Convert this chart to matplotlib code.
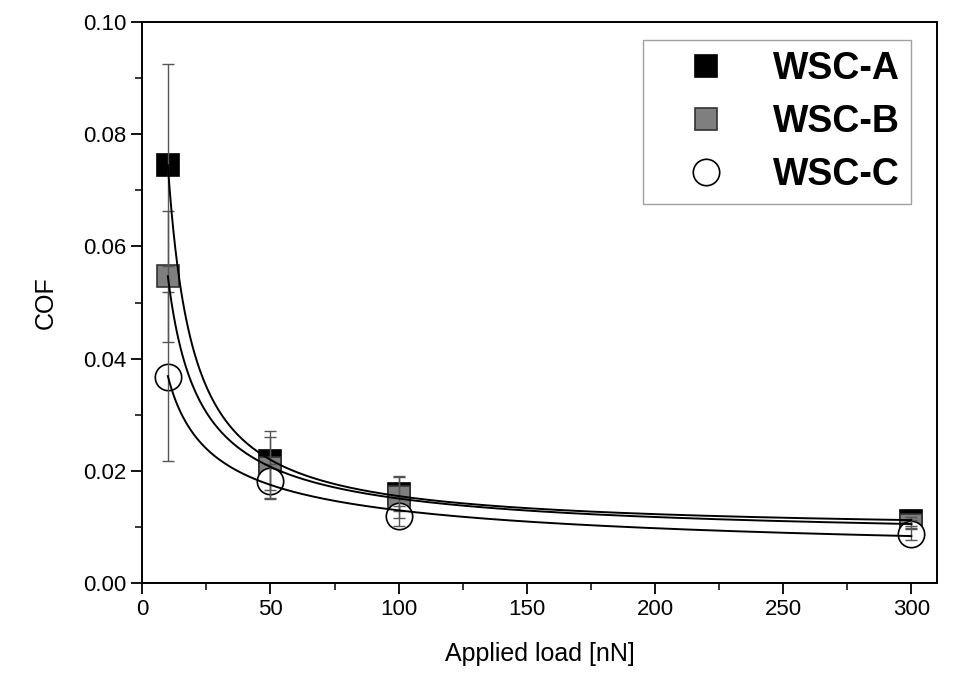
import numpy as np
import matplotlib.pyplot as plt

plt.rcParams['font.family'] = ['Liberation Sans', 'DejaVu Sans']

# Datos
carga = [10, 50, 100, 300]
cof_a = [0.0745, 0.0218, 0.0158, 0.0110]
err_a = [0.0180, 0.0052, 0.0030, 0.0008]
cof_b = [0.0547, 0.0205, 0.0153, 0.0104]
err_b = [0.0117, 0.0055, 0.0038, 0.0008]
cof_c = [0.0368, 0.0182, 0.0119, 0.0087]
err_c = [0.0150, 0.0030, 0.0018, 0.0010]
series = ["WSC-A", "WSC-B", "WSC-C"]


# Ajuste y = c + k * x^b (malla en b, minimos cuadrados en c y k)
def ajuste(x, y):
    x = np.asarray(x, float)
    y = np.asarray(y, float)
    mejor = None
    for b in np.linspace(-3, -0.2, 281):
        M = np.column_stack([np.ones_like(x), x ** b])
        coef, *_ = np.linalg.lstsq(M, y, rcond=None)
        res = np.sum((M @ coef - y) ** 2)
        if mejor is None or res < mejor[0]:
            mejor = (res, coef[0], coef[1], b)
    _, c, k, b = mejor
    return lambda t: c + k * t ** b


fig = plt.figure(figsize=(9.61, 6.73), dpi=100)
ax = fig.add_axes([0.148, 0.134, 0.827, 0.833])

estilos = [
    dict(marker='s', mfc='black', mec='black', ms=16.5),
    dict(marker='s', mfc='#7f7f7f', mec='#333333', ms=16.5),
    dict(marker='o', mfc='white', mec='black', ms=19),
]

xs = np.linspace(10, 300, 400)
for nombre, y, e, st in zip(series, [cof_a, cof_b, cof_c],
                            [err_a, err_b, err_c], estilos):
    ax.plot(carga, y, linestyle='none', mew=1.2, zorder=2, label=nombre, **st)
    ax.errorbar(carga, y, yerr=e, fmt='none', ecolor='#555555',
                elinewidth=1.0, capsize=4, capthick=1.0, zorder=3)
    f = ajuste(carga, y)
    ax.plot(xs, f(xs), color='black', lw=1.4, zorder=4)

ax.set_xlim(0, 310)
ax.set_ylim(0, 0.1)
ax.set_xticks([0, 50, 100, 150, 200, 250, 300])
ax.set_xticks(np.arange(25, 310, 50), minor=True)
ax.set_yticks(np.arange(0, 0.101, 0.02))
ax.set_yticks(np.arange(0.01, 0.1, 0.02), minor=True)
ax.yaxis.set_major_formatter(plt.FormatStrFormatter('%.2f'))
ax.tick_params(which='major', direction='out', length=8, width=1.3,
               labelsize=16, top=False, right=False)
ax.tick_params(which='minor', direction='out', length=5, width=1.1,
               top=False, right=False)
for s in ax.spines.values():
    s.set_linewidth(1.4)

ax.set_xlabel("Applied load [nN]", fontsize=18, labelpad=16)
ax.set_ylabel("COF", fontsize=18, labelpad=18)

leg = ax.legend(loc='upper right', bbox_to_anchor=(0.967, 0.968),
                borderaxespad=0, prop={'weight': 'bold', 'size': 27},
                frameon=True, fancybox=False, edgecolor='#888888',
                borderpad=0.28, labelspacing=0.46, handlelength=2.8,
                handletextpad=0.38, markerscale=1.0)
leg.get_frame().set_linewidth(1.0)

plt.savefig("out.png", dpi=100)
